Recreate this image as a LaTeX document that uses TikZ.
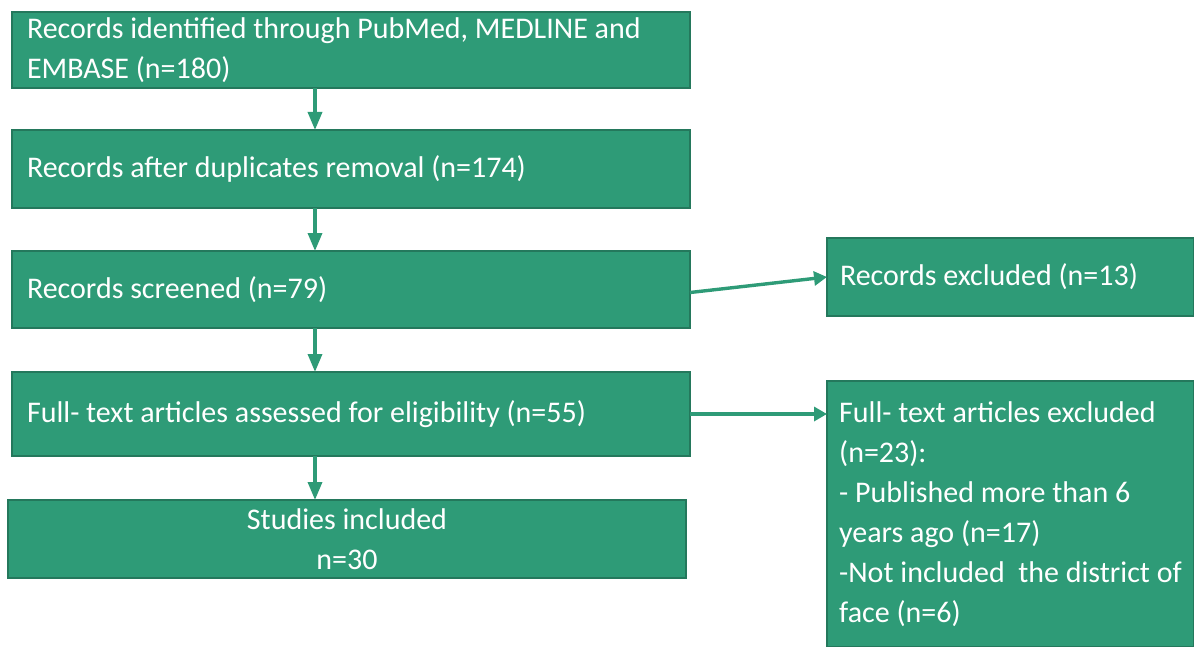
\documentclass[tikz,border=0pt]{standalone}
\usepackage{fontspec}
\setmainfont{Carlito}
\usetikzlibrary{arrows.meta,calc}
\definecolor{boxgreen}{RGB}{46,155,119}
\definecolor{boxedge}{RGB}{36,120,92}
\tikzset{
  box/.style={draw=boxedge,line width=0.6pt,fill=boxgreen,text=white,
    font=\fontsize{15pt}{20pt}\selectfont,inner sep=0pt,outer sep=0pt},
  leftbox/.style={box,align=flush left,text width=#1},
  flow/.style={draw=boxgreen,line width=1.7pt,-{Triangle[length=9pt,width=7pt]}},
  side/.style={draw=boxgreen,line width=1.7pt,-{Triangle[length=6.5pt,width=7pt]}}
}
\begin{document}
\begin{tikzpicture}[x=0.5pt,y=-0.5pt]
  \useasboundingbox (0,0) rectangle (1194,647);
  % main column
  \node[leftbox=324pt,minimum width=339pt,minimum height=38pt] (ident) at (351,50)
    {Records identified through PubMed, MEDLINE and\\EMBASE (n=180)};
  \node[leftbox=324pt,minimum width=339pt,minimum height=39pt] (dupl) at (351,169)
    {Records after duplicates removal (n=174)};
  \node[leftbox=324pt,minimum width=339pt,minimum height=38.5pt] (screen) at (351,289.5)
    {Records screened (n=79)};
  \node[leftbox=324pt,minimum width=339pt,minimum height=42pt] (full) at (351,414)
    {Full- text articles assessed for eligibility (n=55)};
  \node[box,align=center,minimum width=339pt,minimum height=39pt] (incl) at (347,539)
    {Studies included\\n=30};
  % side boxes
  \node[leftbox=170.5pt,minimum width=183.5pt,minimum height=39pt] (excl) at (1010.5,277)
    {Records excluded (n=13)};
  \node[box,align=left,minimum width=183.5pt,minimum height=133pt] (fexcl) at (1010.5,514)
    {Full- text articles excluded\\(n=23):\\- Published more than 6\\years ago (n=17)\\
     -Not included\ \ the district of\\face (n=6)};
  % connectors
  \coordinate (ax) at (315,0);
  \draw[flow] (ident.south -| ax) -- (dupl.north -| ax);
  \draw[flow] (dupl.south -| ax) -- (screen.north -| ax);
  \draw[flow] (screen.south -| ax) -- (full.north -| ax);
  \draw[flow] (full.south -| ax) -- (incl.north -| ax);
  \draw[side] ([yshift=-1.5pt]screen.east) -- (excl.west);
  \draw[side] (full.east) -- (full.east -| fexcl.west);
\end{tikzpicture}
\end{document}
